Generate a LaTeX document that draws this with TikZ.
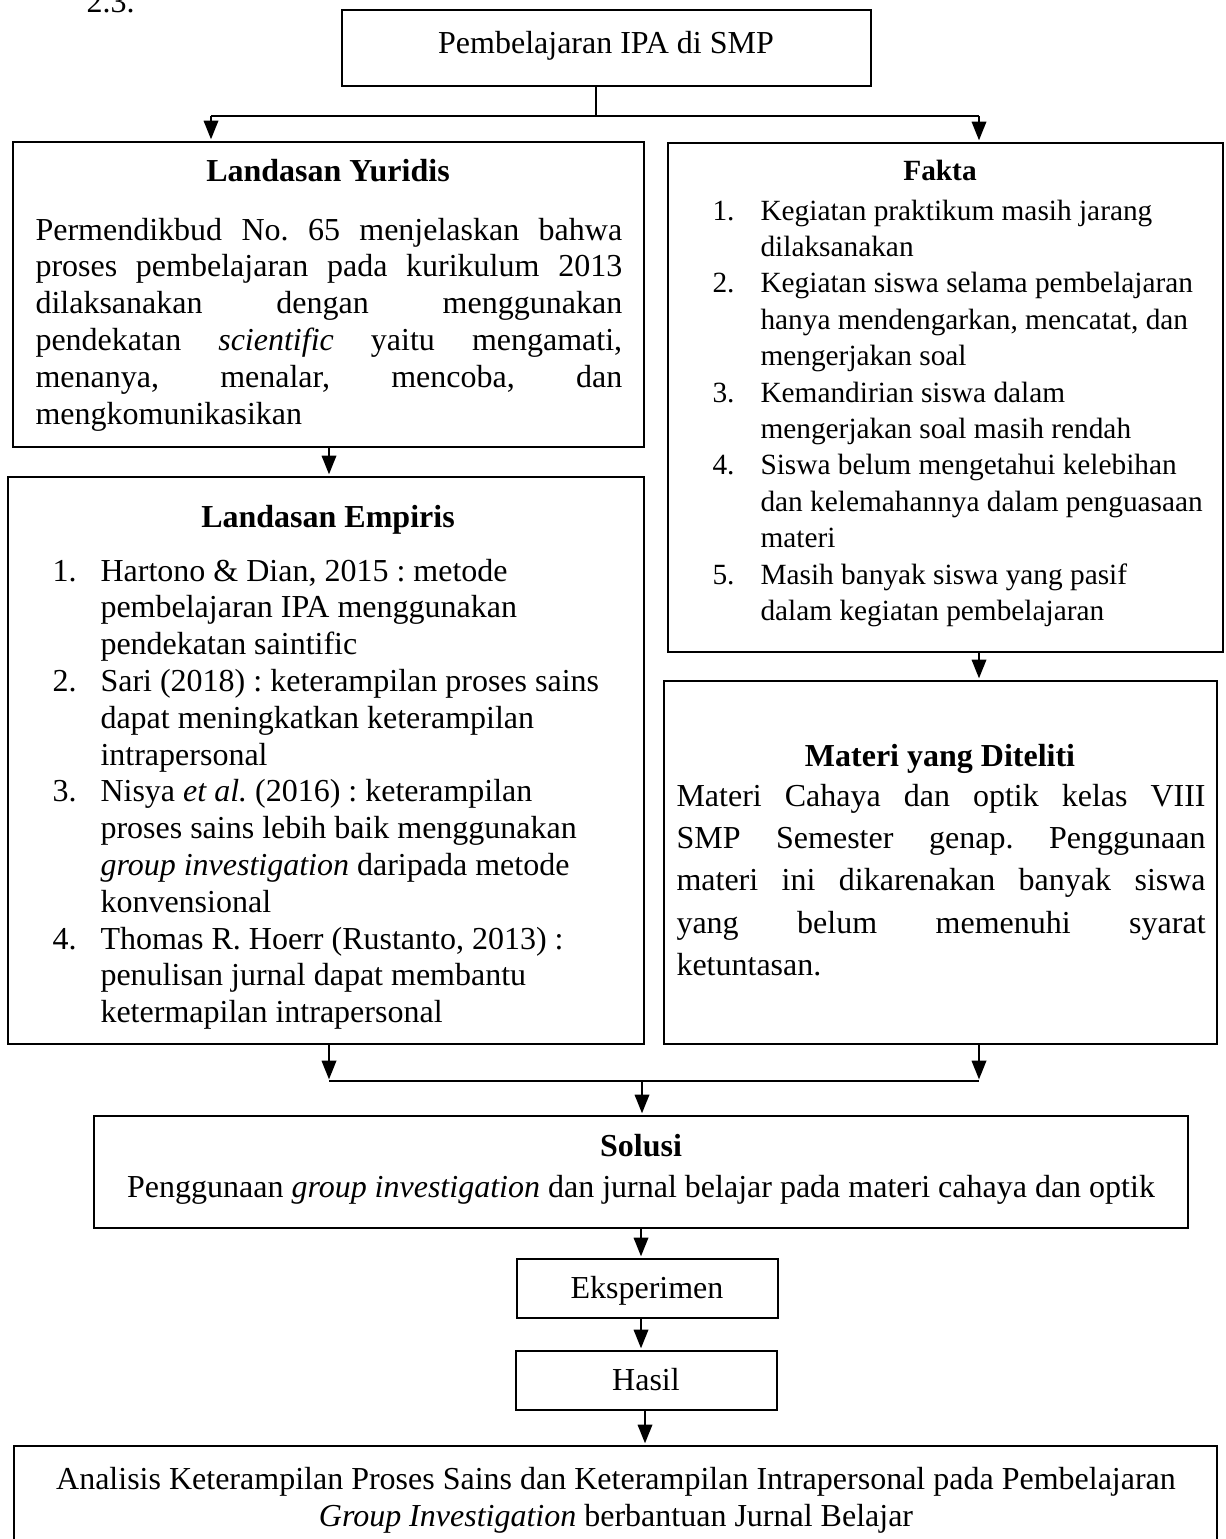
\documentclass[tikz,border=0pt]{standalone}
\usepackage{fontspec}
\setmainfont{Liberation Serif}
\usetikzlibrary{fit,arrows.meta}
\frenchspacing
\begin{document}
\begin{tikzpicture}[x=0.375pt,y=-0.375pt,
  box/.style={draw,line width=0.8pt,inner sep=0pt},
  conn/.style={line width=0.8pt},
  thickconn/.style={line width=1.1pt},
  thinconn/.style={line width=0.45pt},
  arr/.style={line width=0.8pt,-{Triangle[length=7pt,width=5.4pt]},shorten >=0.6pt},
  txt/.style={inner sep=0pt,font=\fontsize{12}{13.8}\selectfont},
  btxt/.style={inner sep=0pt,font=\fontsize{12}{13.8}\selectfont\bfseries},
  stxt/.style={inner sep=0pt,font=\fontsize{11}{13.65}\selectfont},
  sbtxt/.style={inner sep=0pt,font=\fontsize{11}{13.65}\selectfont\bfseries}
]
\useasboundingbox (0,0) rectangle (1225,1539);
\clip (0,0) rectangle (1225,1539);

% boxes
\node[box,fit={(342,10) (871,86)}] (top) {};
\node[box,fit={(13,142) (644,447)}] (yur) {};
\node[box,fit={(668,143) (1223,652)}] (fak) {};
\node[box,fit={(8,477) (644,1044)}] (emp) {};
\node[box,fit={(664,681) (1217,1044)}] (mat) {};
\node[box,fit={(94,1116) (1188,1228)}] (sol) {};
\node[box,fit={(517,1259) (778,1318)}] (eks) {};
\node[box,fit={(516,1351) (777,1410)}] (has) {};
\node[box,fit={(14,1446) (1217,1620)}] (fin) {};

% connectors
\coordinate (j0) at (596,116);
\coordinate (jl) at (211,116);
\coordinate (jr) at (979,116);
\draw[thinconn] (top.south -| j0) -- (j0);
\draw[thickconn] (jl) -- (jr);
\draw[arr] (jl) -- (jl |- yur.north);
\draw[arr] (jr) -- (jr |- fak.north);

\coordinate (a1) at (329,300);
\draw[arr] (yur.south -| a1) -- (emp.north -| a1);
\coordinate (a2) at (979,660);
\draw[arr] (fak.south -| a2) -- (mat.north -| a2);

\coordinate (kl) at (329,1081);
\coordinate (kr) at (979,1081);
\coordinate (km) at (642,1081);
\draw[arr] (emp.south -| kl) -- (kl);
\draw[arr] (mat.south -| kr) -- (kr);
\draw[thickconn] (kl) -- (kr);
\draw[arr] (km) -- (sol.north -| km);

\coordinate (c1) at (641,1240);
\draw[arr] (sol.south -| c1) -- (eks.north -| c1);
\coordinate (c2) at (641,1330);
\draw[arr] (eks.south -| c2) -- (has.north -| c2);
\coordinate (c3) at (645,1430);
\draw[arr] (has.south -| c3) -- (fin.north -| c3);

% texts
\node[txt,anchor=base west] (num) at (86,12) {2.3.};
\node[txt,anchor=base] (ttop) at (606,53) {Pembelajaran IPA di SMP};

\node[btxt,anchor=base] (tyur) at (328,181) {Landasan Yuridis};
\node[txt,anchor=base west] (byur) at (35,240) {\begin{tabular}[t]{@{}l@{}}
\makebox[220pt][s]{Permendikbud No. 65 menjelaskan bahwa}\\
\makebox[220pt][s]{proses pembelajaran pada kurikulum 2013}\\
\makebox[220pt][s]{dilaksanakan dengan menggunakan}\\
\makebox[220pt][s]{pendekatan \textit{scientific} yaitu mengamati,}\\
\makebox[220pt][s]{menanya, menalar, mencoba, dan}\\
mengkomunikasikan
\end{tabular}};

\node[sbtxt,anchor=base] (tfak) at (940,180) {Fakta};
\node[stxt,anchor=base west] (bfak) at (712,220) {\begin{tabular}[t]{@{}p{18pt}@{}l@{}}
1. & Kegiatan praktikum masih jarang\\
   & dilaksanakan\\
2. & Kegiatan siswa selama pembelajaran\\
   & hanya mendengarkan, mencatat, dan\\
   & mengerjakan soal\\
3. & Kemandirian siswa dalam\\
   & mengerjakan soal masih rendah\\
4. & Siswa belum mengetahui kelebihan\\
   & dan kelemahannya dalam penguasaan\\
   & materi\\
5. & Masih banyak siswa yang pasif\\
   & dalam kegiatan pembelajaran
\end{tabular}};

\node[btxt,anchor=base] (temp) at (328,527) {Landasan Empiris};
\node[txt,anchor=base west] (bemp) at (52,581) {\begin{tabular}[t]{@{}p{18pt}@{}l@{}}
1. & Hartono \& Dian, 2015 : metode\\
   & pembelajaran IPA menggunakan\\
   & pendekatan saintific\\
2. & Sari (2018) : keterampilan proses sains\\
   & dapat meningkatkan keterampilan\\
   & intrapersonal\\
3. & Nisya \textit{et al.} (2016) : keterampilan\\
   & proses sains lebih baik menggunakan\\
   & \textit{group investigation} daripada metode\\
   & konvensional\\
4. & Thomas R. Hoerr (Rustanto, 2013) :\\
   & penulisan jurnal dapat membantu\\
   & ketermapilan intrapersonal
\end{tabular}};

\node[btxt,anchor=base] (tmat) at (940,766) {Materi yang Diteliti};
\node[inner sep=0pt,font=\fontsize{12}{15.9}\selectfont,anchor=base west] (bmat) at (676,806) {\begin{tabular}[t]{@{}l@{}}
\makebox[198.4pt][s]{Materi Cahaya dan optik kelas VIII}\\
\makebox[198.4pt][s]{SMP Semester genap. Penggunaan}\\
\makebox[198.4pt][s]{materi ini dikarenakan banyak siswa}\\
\makebox[198.4pt][s]{yang belum memenuhi syarat}\\
ketuntasan.
\end{tabular}};

\node[btxt,anchor=base] (tsol) at (641,1156) {Solusi};
\node[txt,anchor=base] (bsol) at (641,1197) {Penggunaan \textit{group investigation} dan jurnal belajar pada materi cahaya dan optik};

\node[txt,anchor=base] (teks) at (647,1298) {Eksperimen};
\node[txt,anchor=base] (thas) at (646,1390) {Hasil};

\node[txt,anchor=base] (tfin1) at (616,1489) {Analisis Keterampilan Proses Sains dan Keterampilan Intrapersonal pada Pembelajaran};
\node[txt,anchor=base] (tfin2) at (616,1526) {\textit{Group Investigation} berbantuan Jurnal Belajar};
\end{tikzpicture}
\end{document}
